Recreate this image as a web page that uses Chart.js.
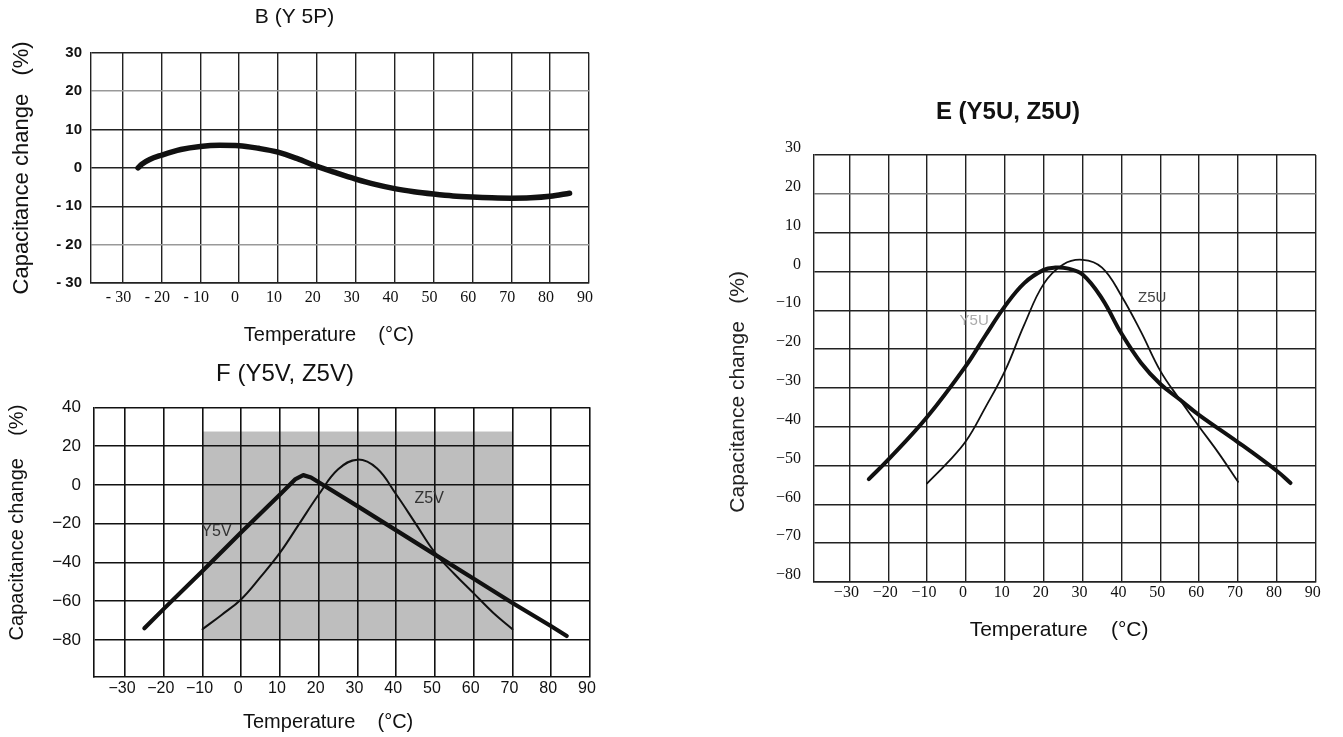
<!DOCTYPE html>
<html>
<head>
<meta charset="utf-8">
<title>Capacitance change vs temperature</title>
<script src="https://cdn.jsdelivr.net/npm/chart.js@4.4.1/dist/chart.umd.min.js"></script>
<style>
    html, body { margin: 0; padding: 0; background: #fff; }
    body { width: 1343px; height: 737px; position: relative; overflow: hidden; }
    canvas { position: absolute; }
    #chartB { left: 0; top: 0; }
    #chartF { left: -20px; top: 350px; }
    #chartE { left: 700px; top: 85px; }
</style>
</head>
<body>
<canvas id="chartB" width="634" height="350"></canvas>
<canvas id="chartF" width="628" height="387"></canvas>
<canvas id="chartE" width="635" height="575"></canvas>
<script>
// --- Values ---
const tempTicks = [-30, -20, -10, 0, 10, 20, 30, 40, 50, 60, 70, 80, 90];

// B (Y 5P)
const capTicksB = [30, 20, 10, 0, -10, -20, -30];
const y5pTemp = [-26, -25, -23, -20, -15, -10, -5, 0, 5, 10, 15, 20, 25, 30, 35, 40, 45, 50, 55, 60, 65, 70, 75, 80, 85];
const y5pCap  = [0, 1.0, 2.2, 3.3, 4.8, 5.6, 5.9, 5.8, 5.1, 4.1, 2.4, 0.4, -1.3, -2.9, -4.3, -5.4, -6.2, -6.8, -7.3, -7.6, -7.8, -7.9, -7.8, -7.4, -6.6];

// F (Y5V, Z5V)
const capTicksF = [40, 20, 0, -20, -40, -60, -80];
const y5vTemp = [-25, -20, -10, 0, 10, 14, 16, 18, 30, 40, 50, 60, 70, 80, 84];
const y5vCap  = [-74, -64, -44.5, -24.5, -5, 3, 5, 3.8, -11, -23.5, -36, -48.5, -61, -73, -78];
const z5vTemp = [-10, -5, 0, 5, 10, 15, 20, 25, 30, 35, 40, 45, 50, 55, 60, 65, 70];
const z5vCap  = [-74.5, -67, -59, -47.5, -35, -20, -5, 8, 13, 8.5, -5, -20, -35, -46, -56, -66, -74.5];
const shadeTemp = [-10, 70];
const shadeCap = [-80, 27.5];

// E (Y5U, Z5U)
const capTicksE = [30, 20, 10, 0, -10, -20, -30, -40, -50, -60, -70, -80];
const y5uTemp = [-25, -20, -10, 0, 5, 10, 15, 20, 23, 26, 30, 35, 40, 45, 50, 55, 60, 70, 80, 83.5];
const y5uCap  = [-53.5, -48.5, -37.5, -24.3, -16.5, -9, -3, 0.4, 1, 0.8, -0.8, -7, -16, -23.5, -29, -33, -37, -44, -51.4, -54.5];
const z5uTemp = [-10, -5, 0, 5, 10, 15, 20, 25, 30, 35, 40, 45, 50, 55, 60, 65, 70];
const z5uCap  = [-54.6, -49.5, -43.7, -35, -25.7, -13.7, -3.2, 1.8, 3, 1, -6.3, -15.5, -25.6, -33, -40, -46.8, -54.2];

// curve names, placed in data units
const fNames = [{ text: 'Y5V', x: -6.4, y: -24, color: '#333' }, { text: 'Z5V', x: 48.5, y: -7, color: '#333' }];
const eNames = [{ text: 'Y5U', x: 2.1, y: -12.8, color: '#aaa' }, { text: 'Z5U', x: 47.9, y: -6.8, color: '#444' }];

const SANS = '"Liberation Sans", Arial, sans-serif';
const SERIF = '"Liberation Serif", "DejaVu Serif", serif';
const INK = '#111';

const toPoints = (xs, ys) => xs.map((x, i) => ({ x, y: ys[i] }));
const fixedTicks = values => scale => { scale.ticks = values.map(value => ({ value })); };
const withMinus = (dash) => v => (v < 0 ? dash + Math.abs(v) : String(v));

// gray band behind the F grid
const shadePlugin = {
    id: 'shade',
    beforeDraw(chart, args, opts) {
        if (!opts.color) return;
        const { ctx, scales: { x, y } } = chart;
        const left = x.getPixelForValue(shadeTemp[0]);
        const right = x.getPixelForValue(shadeTemp[1]);
        const top = y.getPixelForValue(shadeCap[1]);
        const bottom = y.getPixelForValue(shadeCap[0]);
        ctx.save();
        ctx.fillStyle = opts.color;
        ctx.fillRect(left, top, right - left, bottom - top);
        ctx.restore();
    }
};

const namePlugin = (names, font) => ({
    id: 'curveNames',
    afterDatasetsDraw(chart) {
        const { ctx, scales: { x, y } } = chart;
        ctx.save();
        ctx.font = font;
        ctx.textAlign = 'center';
        ctx.textBaseline = 'middle';
        names.forEach(n => {
            ctx.fillStyle = n.color;
            ctx.fillText(n.text, x.getPixelForValue(n.x), y.getPixelForValue(n.y));
        });
        ctx.restore();
    }
});

// smooth: 'monotone', a bezier tension, or 0 for straight segments
const curve = (xs, ys, width, smooth) => ({
    data: toPoints(xs, ys),
    borderColor: INK,
    borderWidth: width,
    pointRadius: 0,
    fill: false,
    tension: typeof smooth === 'number' ? smooth : 0,
    cubicInterpolationMode: smooth === 'monotone' ? 'monotone' : 'default',
    borderCapStyle: 'round',
    borderJoinStyle: 'round'
});

const baseOptions = () => ({
    responsive: false,
    animation: false,
    events: []
});

// --- B (Y 5P) ---
new Chart(document.getElementById('chartB'), {
    type: 'line',
    data: { datasets: [curve(y5pTemp, y5pCap, 5.5, 'monotone')] },
    options: {
        ...baseOptions(),
        layout: { padding: { top: 5, right: 45, bottom: 0, left: 0 } },
        plugins: {
            legend: { display: false },
            tooltip: { enabled: false },
            title: { display: true, text: 'B (Y 5P)', color: INK, font: { family: SANS, size: 21, weight: 'normal' }, padding: { top: 0, bottom: 22.6 } }
        },
        scales: {
            x: {
                type: 'linear', min: -38.1, max: 90,
                afterBuildTicks: fixedTicks(tempTicks),
                afterFit: s => { s.height = 67; },
                grid: { color: '#222', lineWidth: 1.4, drawTicks: false },
                border: { color: '#222', width: 1.4 },
                ticks: { color: INK, padding: 5, labelOffset: -4, font: { family: SERIF, size: 16 }, callback: withMinus('- ') },
                title: { display: true, text: 'Temperature    (°C)    ', color: INK, font: { family: SANS, size: 20 }, padding: { top: 0, bottom: 3 } }
            },
            y: {
                type: 'linear', min: -30, max: 30,
                afterBuildTicks: fixedTicks(capTicksB),
                afterFit: s => { s.width = 91; },
                grid: { color: c => (c.tick && Math.abs(c.tick.value) === 20 ? '#999' : '#222'), lineWidth: 1.4, drawTicks: false },
                border: { color: '#222', width: 1.4 },
                ticks: { color: INK, padding: 9, font: { family: SANS, size: 15, weight: 'bold' }, callback: withMinus('- ') },
                title: { display: true, text: 'Capacitance change   (%)', color: INK, font: { family: SANS, size: 22 }, padding: { top: 9, bottom: 0 } }
            }
        }
    }
});

// --- F (Y5V, Z5V) ---
new Chart(document.getElementById('chartF'), {
    type: 'line',
    data: { datasets: [curve(y5vTemp, y5vCap, 4.2, 0), curve(z5vTemp, z5vCap, 2, 0.4)] },
    options: {
        ...baseOptions(),
        layout: { padding: { top: 5, right: 18, bottom: 0, left: 0 } },
        plugins: {
            legend: { display: false },
            tooltip: { enabled: false },
            shade: { color: '#bebebe' },
            title: { display: true, text: 'F (Y5V, Z5V)', color: INK, font: { family: SANS, size: 24, weight: 'normal' }, padding: { top: 4.6, bottom: 18.9 } }
        },
        scales: {
            x: {
                type: 'linear', min: -38, max: 90,
                afterBuildTicks: fixedTicks(tempTicks),
                afterFit: s => { s.height = 60.3; },
                grid: { color: INK, lineWidth: 1.6, drawTicks: false },
                border: { color: INK, width: 1.6 },
                ticks: { color: INK, padding: 2, labelOffset: -3, font: { family: SANS, size: 16 }, callback: withMinus('\u2212') },
                title: { display: true, text: 'Temperature    (°C)     ', color: INK, font: { family: SANS, size: 20 }, padding: { top: 0, bottom: 3 } }
            },
            y: {
                type: 'linear', min: -99, max: 40,
                afterBuildTicks: fixedTicks(capTicksF),
                afterFit: s => { s.width = 114; },
                grid: { color: INK, lineWidth: 1.6, drawTicks: false },
                border: { color: INK, width: 1.6 },
                ticks: { color: INK, padding: 13, font: { family: SANS, size: 17 }, callback: withMinus('\u2212') },
                title: { display: true, text: '       Capacitance change    (%)', color: INK, font: { family: SANS, size: 20 }, padding: { top: 25, bottom: 0 } }
            }
        }
    },
    plugins: [shadePlugin, namePlugin(fNames, '16px ' + SANS)]
});

// --- E (Y5U, Z5U) ---
new Chart(document.getElementById('chartE'), {
    type: 'line',
    data: { datasets: [curve(y5uTemp, y5uCap, 4, 0.4), curve(z5uTemp, z5uCap, 1.8, 0.4)] },
    options: {
        ...baseOptions(),
        layout: { padding: { top: 5, right: 19.2, bottom: 0, left: 0 } },
        plugins: {
            legend: { display: false },
            tooltip: { enabled: false },
            title: { display: true, text: 'E (Y5U, Z5U)', color: INK, font: { family: SANS, size: 24, weight: 'bold' }, padding: { top: 7.6, bottom: 28.6 } }
        },
        scales: {
            x: {
                type: 'linear', min: -39.1, max: 90,
                afterBuildTicks: fixedTicks(tempTicks),
                afterFit: s => { s.height = 78; },
                grid: { color: '#222', lineWidth: 1.4, drawTicks: false },
                border: { color: '#222', width: 1.4 },
                ticks: { color: INK, padding: 1, labelOffset: -3, font: { family: SERIF, size: 16 }, callback: withMinus('\u2212') },
                title: { display: true, text: 'Temperature    (°C)  ', color: INK, font: { family: SANS, size: 21 }, padding: { top: 0, bottom: 17.4 } }
            },
            y: {
                type: 'linear', min: -80, max: 30,
                afterBuildTicks: fixedTicks(capTicksE),
                afterFit: s => { s.width = 114; },
                grid: { color: c => (c.tick && c.tick.value === 20 ? '#777' : '#222'), lineWidth: 1.4, drawTicks: false },
                border: { color: '#222', width: 1.4 },
                ticks: { color: INK, padding: 13, labelOffset: -7, font: { family: SERIF, size: 16 }, callback: withMinus('\u2212') },
                title: { display: true, text: 'Capacitance change   (%)        ', color: '#222', font: { family: SANS, size: 21 }, padding: { top: 25.4, bottom: 0 } }
            }
        }
    },
    plugins: [namePlugin(eNames, '15px ' + SANS)]
});
</script>
</body>
</html>
